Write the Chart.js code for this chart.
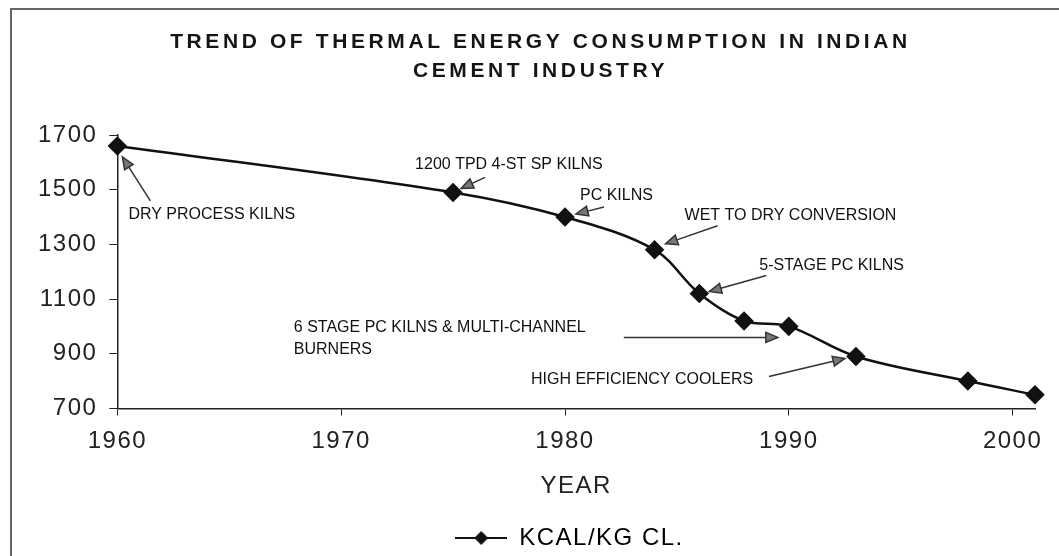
<!DOCTYPE html>
<html>
<head>
<meta charset="utf-8">
<title>Thermal energy consumption - Indian cement industry</title>
<script src="https://cdn.jsdelivr.net/npm/chart.js@4.4.1/dist/chart.umd.min.js"></script>
<style>
  html, body { margin: 0; padding: 0; background: #fff; }
  #wrap { width: 1059px; height: 556px; position: relative; }
</style>
</head>
<body>
<div id="wrap"><canvas id="chart"></canvas></div>
<script>
// data
const years = [1960, 1975, 1980, 1984, 1986, 1988, 1990, 1993, 1998, 2001];
const kcal = [1660, 1490, 1400, 1280, 1120, 1020, 1000, 890, 800, 750];
const xTicks = [1960, 1970, 1980, 1990, 2000];
const yTicks = [700, 900, 1100, 1300, 1500, 1700];
const seriesName = "KCAL/KG CL.";
const titleLines = ["TREND OF THERMAL ENERGY CONSUMPTION IN INDIAN", "CEMENT INDUSTRY"];
const noteLabels = [
  ["DRY PROCESS KILNS"],
  ["1200 TPD 4-ST SP KILNS"],
  ["PC KILNS"],
  ["WET TO DRY CONVERSION"],
  ["5-STAGE PC KILNS"],
  ["6 STAGE PC KILNS & MULTI-CHANNEL", "BURNERS"],
  ["HIGH EFFICIENCY COOLERS"],
];
const noteTargets = [0, 1, 2, 3, 4, 6, 7];

// where each note sits, in px relative to its point
const noteLayout = [
  { txt: [11, 69], tail: [33, 55], tip: [5, 11] },
  { txt: [-38, -28], tail: [32, -15], tip: [8, -4] },
  { txt: [15, -21], tail: [39, -10], tip: [11, -3] },
  { txt: [30, -34], tail: [63, -24], tip: [11, -6] },
  { txt: [60, -28], tail: [67, -18], tip: [10, -2] },
  { txt: [-495, 1], tail: [-165, 11], tip: [-11, 11] },
  { txt: [-325, 23], tail: [-87, 20], tip: [-11, 2] },
];
const FONT = '"Liberation Sans", Arial, sans-serif';

function legendMark() {
  const c = document.createElement("canvas");
  c.width = 52; c.height = 18;
  const g = c.getContext("2d");
  g.strokeStyle = "#111"; g.lineWidth = 2;
  g.beginPath(); g.moveTo(0, 9); g.lineTo(52, 9); g.stroke();
  g.fillStyle = "#111";
  g.beginPath(); g.moveTo(26, 2); g.lineTo(33, 9); g.lineTo(26, 16); g.lineTo(19, 9); g.closePath(); g.fill();
  return c;
}

function arrow(ctx, x1, y1, x2, y2) {
  const a = Math.atan2(y2 - y1, x2 - x1);
  const len = 12, w = 5;
  const bx = x2 - Math.cos(a) * len, by = y2 - Math.sin(a) * len;
  ctx.beginPath(); ctx.moveTo(x1, y1); ctx.lineTo(bx, by); ctx.stroke();
  ctx.beginPath();
  ctx.moveTo(x2, y2);
  ctx.lineTo(bx + Math.sin(a) * w, by - Math.cos(a) * w);
  ctx.lineTo(bx - Math.sin(a) * w, by + Math.cos(a) * w);
  ctx.closePath();
  ctx.fill(); ctx.stroke();
}

const decor = {
  id: "decor",
  beforeLayout(chart) { chart.ctx.letterSpacing = "1.5px"; },
  afterLayout(chart) {
    // legend sits a bit right of the page centre and lower in the original
    chart.legend.left += 78;
    chart.legend.top += 4;
    chart.legend.bottom += 4;
  },
  beforeDraw(chart) {
    const ctx = chart.ctx;
    ctx.save();
    ctx.fillStyle = "#fff";
    ctx.fillRect(0, 0, chart.width, chart.height);
    // frame
    ctx.strokeStyle = "#666"; ctx.lineWidth = 2;
    ctx.beginPath(); ctx.moveTo(11, chart.height); ctx.lineTo(11, 9); ctx.lineTo(chart.width, 9); ctx.stroke();
    // title
    ctx.font = "bold 21px " + FONT;
    ctx.letterSpacing = "3.6px";
    ctx.fillStyle = "#151515"; ctx.textAlign = "center"; ctx.textBaseline = "middle";
    titleLines.forEach((t, i) => ctx.fillText(t, chart.width / 2 + 11, 42 + i * 29));
    ctx.restore();
  },
  afterDatasetsDraw(chart) {
    const ctx = chart.ctx;
    const meta = chart.getDatasetMeta(0);
    ctx.save();
    ctx.letterSpacing = "0px";
    ctx.font = "16px " + FONT;
    ctx.textAlign = "left"; ctx.textBaseline = "middle";
    ctx.lineWidth = 1.5;
    noteLabels.forEach((lines, i) => {
      const p = meta.data[noteTargets[i]];
      const L = noteLayout[i];
      ctx.fillStyle = "#111";
      lines.forEach((t, j) => ctx.fillText(t, p.x + L.txt[0], p.y + L.txt[1] + j * 22));
      ctx.strokeStyle = "#333"; ctx.fillStyle = "#777";
      arrow(ctx, p.x + L.tail[0], p.y + L.tail[1], p.x + L.tip[0], p.y + L.tip[1]);
    });
    ctx.restore();
  }
};

new Chart(document.getElementById("chart"), {
  type: "line",
  data: {
    datasets: [{
      label: seriesName,
      data: years.map((y, i) => ({ x: y, y: kcal[i] })),
      borderColor: "#111",
      borderWidth: 2.5,
      tension: 0.35,
      clip: false,
      pointStyle: "rectRot",
      pointRadius: 8,
      pointBackgroundColor: "#111",
      pointBorderColor: "#111",
    }]
  },
  options: {
    responsive: true,
    maintainAspectRatio: false,
    animation: false,
    layout: { padding: { top: 135, right: 24, left: 26, bottom: 0 } },
    plugins: {
      tooltip: { enabled: false },
      legend: {
        position: "bottom",
        labels: {
          color: "#222",
          font: { family: FONT, size: 24 },
          usePointStyle: true,
          pointStyleWidth: 52,
          boxHeight: 18,
          padding: 6,
          generateLabels: () => [{
            text: seriesName, pointStyle: legendMark(), fillStyle: "#111",
            strokeStyle: "#111", lineWidth: 0, hidden: false, datasetIndex: 0
          }]
        }
      }
    },
    scales: {
      x: {
        type: "linear",
        min: xTicks[0],
        max: years[years.length - 1],
        afterBuildTicks: (axis) => { axis.ticks = xTicks.map(v => ({ value: v })); },
        ticks: { color: "#222", font: { family: FONT, size: 24 }, padding: 12, callback: v => String(v) },
        grid: { display: true, drawOnChartArea: false, color: "#222", tickLength: 7 },
        border: { display: true, color: "#222", width: 1.5 },
        title: { display: true, text: "YEAR", color: "#222", font: { family: FONT, size: 24 }, padding: { top: 4, bottom: 15 } }
      },
      y: {
        min: yTicks[0],
        max: yTicks[yTicks.length - 1],
        afterBuildTicks: (axis) => { axis.ticks = yTicks.map(v => ({ value: v })); },
        ticks: { color: "#222", font: { family: FONT, size: 24 }, padding: 12, callback: v => String(v) },
        grid: { display: true, drawOnChartArea: false, color: "#222", tickLength: 8 },
        border: { display: true, color: "#222", width: 1.5 }
      }
    }
  },
  plugins: [decor]
});
</script>
</body>
</html>
